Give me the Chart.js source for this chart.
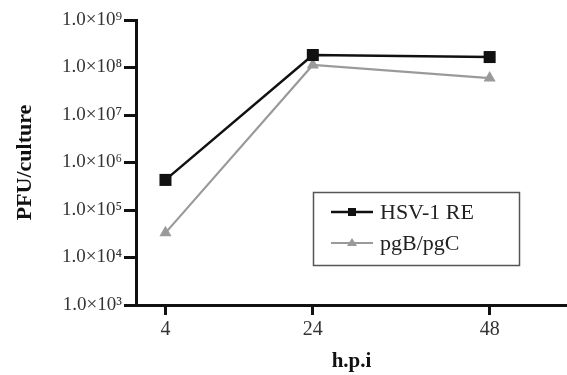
<!DOCTYPE html>
<html>
<head>
<meta charset="utf-8">
<script src="https://cdn.jsdelivr.net/npm/chart.js@4"></script>
<style>
  html, body { margin: 0; padding: 0; background: #fff; }
  #wrap { width: 567px; height: 375px; }
</style>
</head>
<body>
<div id="wrap"><canvas id="chart" width="567" height="375"></canvas></div>
<script>
const hours = [4, 24, 48];
const hsv1RE = [4.3e5, 1.83e8, 1.66e8];
const pgBpgC = [3.3e4, 1.13e8, 6.0e7];
const yTicks = [1e3, 1e4, 1e5, 1e6, 1e7, 1e8, 1e9];
const xTicks = [4, 24, 48];

const sup = { 3: '³', 4: '⁴', 5: '⁵', 6: '⁶', 7: '⁷', 8: '⁸', 9: '⁹' };
const serif = '"Liberation Serif", "Times New Roman", serif';

// legend box drawn by hand so it can sit inside the plot
const boxLegend = {
  id: 'boxLegend',
  afterDraw(chart) {
    const ctx = chart.ctx;
    ctx.save();
    ctx.strokeStyle = '#555';
    ctx.lineWidth = 1.5;
    ctx.strokeRect(313.5, 192.5, 206, 73);
    chart.data.datasets.forEach((ds, i) => {
      const y = 212 + i * 31;
      ctx.strokeStyle = ds.borderColor;
      ctx.lineWidth = ds.borderWidth;
      ctx.beginPath();
      ctx.moveTo(331, y);
      ctx.lineTo(373, y);
      ctx.stroke();
      ctx.fillStyle = ds.pointBackgroundColor;
      if (ds.pointStyle === 'rect') {
        ctx.fillRect(348, y - 4, 8, 8);
      } else {
        ctx.beginPath();
        ctx.moveTo(352, y - 5);
        ctx.lineTo(357, y + 3);
        ctx.lineTo(347, y + 3);
        ctx.closePath();
        ctx.fill();
      }
      ctx.fillStyle = '#222';
      ctx.font = '22px ' + serif;
      ctx.textBaseline = 'middle';
      ctx.fillText(ds.label, 380, y + 1);
    });
    ctx.restore();
  }
};

new Chart(document.getElementById('chart'), {
  type: 'line',
  data: {
    datasets: [
      {
        label: 'HSV-1 RE',
        data: hours.map((h, i) => ({ x: h, y: hsv1RE[i] })),
        borderColor: '#111',
        backgroundColor: '#111',
        pointBackgroundColor: '#111',
        pointBorderColor: '#111',
        borderWidth: 2.5,
        pointStyle: 'rect',
        pointRadius: 8.5,
        pointBorderWidth: 0
      },
      {
        label: 'pgB/pgC',
        data: hours.map((h, i) => ({ x: h, y: pgBpgC[i] })),
        borderColor: '#9a9a9a',
        backgroundColor: '#9a9a9a',
        pointBackgroundColor: '#9a9a9a',
        pointBorderColor: '#9a9a9a',
        borderWidth: 2.2,
        pointStyle: 'triangle',
        pointRadius: 7,
        pointBorderWidth: 0
      }
    ]
  },
  options: {
    responsive: false,
    animation: false,
    layout: { autoPadding: false, padding: { top: 20, right: 0, left: 0, bottom: 0 } },
    plugins: { legend: { display: false }, tooltip: { enabled: false } },
    scales: {
      x: {
        type: 'linear',
        min: 0,
        max: 58.5,
        afterBuildTicks: s => { s.ticks = xTicks.map(v => ({ value: v })); },
        afterFit: s => { s.height = 70; s.paddingRight = 0; s.paddingLeft = 0; },
        border: { color: '#111', width: 3 },
        grid: { drawOnChartArea: false, color: '#111', lineWidth: 3, tickLength: 10 },
        ticks: { color: '#333', padding: 3, font: { family: serif, size: 20 } },
        title: {
          display: true, text: 'h.p.i', color: '#111',
          font: { family: serif, size: 21, weight: 'bold', lineHeight: 1 },
          padding: { top: 0, bottom: 3 }
        }
      },
      y: {
        type: 'logarithmic',
        min: 1e3,
        max: 1e9,
        afterBuildTicks: s => { s.ticks = yTicks.map(v => ({ value: v })); },
        afterFit: s => { s.width = 136; },
        border: { color: '#111', width: 3 },
        grid: { drawOnChartArea: false, color: '#111', lineWidth: 3, tickLength: 12 },
        ticks: {
          color: '#333', padding: 2, font: { family: serif, size: 19 },
          callback: v => '1.0×10' + sup[Math.round(Math.log10(v))]
        },
        title: {
          display: true, text: 'PFU/culture', color: '#111',
          font: { family: serif, size: 22, weight: 'bold', lineHeight: 1 },
          padding: { top: 14, bottom: 0 }
        }
      }
    }
  },
  plugins: [boxLegend]
});
</script>
</body>
</html>
